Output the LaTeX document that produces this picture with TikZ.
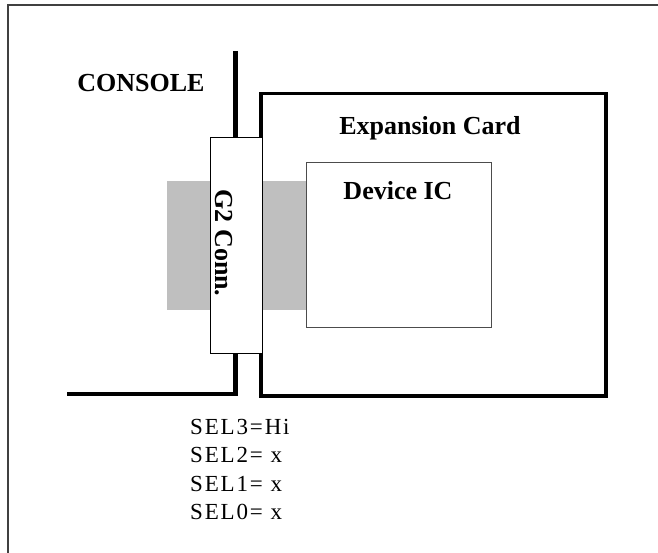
\documentclass[tikz,border=0pt]{standalone}
\usepackage{fontspec}
\setmainfont{Liberation Serif}
\newfontfamily\selfont[LetterSpace=8]{Liberation Serif}
\begin{document}
\begin{tikzpicture}[x=1pt,y=-1pt,
  frameline/.style={draw=black!75,line width=1.2pt},
  wall/.style={draw=black,line width=4.5pt},
  cardbox/.style={draw=black,line width=3.5pt,inner sep=0pt,anchor=north west},
  connbox/.style={draw=black,fill=white,line width=1.3pt,inner sep=0pt,anchor=north west},
  icbox/.style={draw=black!70,fill=white,line width=1pt,inner sep=0pt,anchor=north west},
  shade/.style={fill=black!25,draw=none,inner sep=0pt,anchor=north west},
  boldlabel/.style={font=\fontsize{26}{30}\selectfont\bfseries,inner sep=0pt},
  sellabel/.style={font=\fontsize{23}{28}\selectfont\selfont,inner sep=0pt,anchor=base west}]
\useasboundingbox (0,0) rectangle (658,553);
\fill[white] (0,0) rectangle (658,553);
% frame
\coordinate (fb) at (8,553);
\coordinate (fc) at (8,5);
\coordinate (fr) at (658,5);
\draw[frameline] (fb) -- (fc) -- (fr);
% shaded slot
\node[shade,minimum width=140pt,minimum height=129pt] (slot) at (167,181) {};
% expansion card
\node[cardbox,minimum width=345pt,minimum height=302pt] (card) at (259,92) {};
% console wall
\coordinate (wtop) at (235.5,51);
\coordinate (wbot) at (235.5,394);
\coordinate (wleft) at (67,394);
\draw[wall] (wtop) -- (wbot) -- (wleft);
% device IC
\node[icbox,minimum width=185pt,minimum height=165pt] (ic) at (306,162) {};
% G2 connector
\node[connbox,minimum width=52pt,minimum height=216pt] (conn) at (210,137) {};
% labels
\node[boldlabel,anchor=base] (console) at (141,92) {CONSOLE};
\node[boldlabel,anchor=base] (cardlbl) at (430,135) {Expansion Card};
\node[boldlabel,anchor=base] (iclbl) at (398,200) {Device IC};
\node[boldlabel,rotate=-90] (connlbl) at (224,243) {G2 Conn.};
\node[sellabel] (sel3) at (190,434) {SEL3=Hi};
\node[sellabel] (sel2) at (190,462) {SEL2= x};
\node[sellabel] (sel1) at (190,491) {SEL1= x};
\node[sellabel] (sel0) at (190,519) {SEL0= x};
\end{tikzpicture}
\end{document}
